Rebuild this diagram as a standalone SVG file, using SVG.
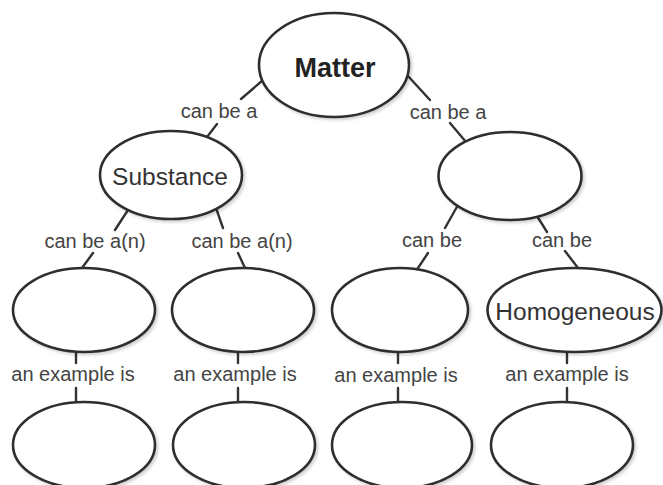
<svg xmlns="http://www.w3.org/2000/svg" width="663" height="485" viewBox="0 0 663 485">
<defs>
<filter id="sh" x="-10%" y="-10%" width="125%" height="130%">
<feDropShadow dx="2" dy="2" stdDeviation="1.5" flood-color="#000" flood-opacity="0.18"/>
</filter>
</defs>
<style>
.node ellipse{fill:#fff;stroke:#2e2e2e;stroke-width:2.6;filter:url(#sh)}
.edge line{stroke:#333;stroke-width:2.4;stroke-linecap:round}
.lbl{font-family:"Liberation Sans",Arial,sans-serif;font-size:20px;fill:#444;text-anchor:middle}
.nt{font-family:"Liberation Sans",Arial,sans-serif;font-size:24.5px;fill:#333;text-anchor:middle}
.bold{font-weight:bold;font-size:27px;fill:#222}
</style>
<rect width="663" height="485" fill="#fff"/>
<g id="connectors" class="edge">
<line x1="263" y1="80" x2="241" y2="99"/>
<line x1="217" y1="124" x2="207" y2="137"/>
<line x1="408" y1="76" x2="430" y2="100"/>
<line x1="450" y1="123" x2="466" y2="142"/>
<line x1="128" y1="210" x2="115" y2="230"/>
<line x1="93" y1="253" x2="82" y2="268"/>
<line x1="216" y1="208" x2="223" y2="228"/>
<line x1="238" y1="253" x2="245" y2="268"/>
<line x1="458" y1="205" x2="445" y2="228"/>
<line x1="428" y1="253" x2="418" y2="268"/>
<line x1="537" y1="216" x2="547" y2="232"/>
<line x1="565" y1="251" x2="578" y2="268"/>
<line x1="76" y1="352" x2="76" y2="363"/>
<line x1="76" y1="388" x2="76" y2="402"/>
<line x1="238" y1="352" x2="238" y2="363"/>
<line x1="238" y1="388" x2="238" y2="402"/>
<line x1="398" y1="352" x2="398" y2="363"/>
<line x1="398" y1="388" x2="398" y2="402"/>
<line x1="567" y1="352" x2="567" y2="363"/>
<line x1="567" y1="388" x2="567" y2="402"/>
</g>
<g id="edge-labels">
<text class="lbl" x="219" y="118">can be a</text>
<text class="lbl" x="448" y="119">can be a</text>
<text class="lbl" x="95" y="248">can be a(n)</text>
<text class="lbl" x="242" y="248">can be a(n)</text>
<text class="lbl" x="432" y="247">can be</text>
<text class="lbl" x="562" y="247">can be</text>
<text class="lbl" x="73" y="381">an example is</text>
<text class="lbl" x="235" y="381">an example is</text>
<text class="lbl" x="396" y="382">an example is</text>
<text class="lbl" x="567" y="381">an example is</text>
</g>
<g id="matter" class="node"><ellipse cx="334" cy="65" rx="75" ry="52"/><text class="nt bold" x="335" y="77">Matter</text></g>
<g id="substance" class="node"><ellipse cx="171" cy="175" rx="71" ry="44"/><text class="nt" x="170" y="185">Substance</text></g>
<g id="mixture" class="node"><ellipse cx="510" cy="176" rx="71.5" ry="44"/></g>
<g id="n1" class="node"><ellipse cx="84" cy="310" rx="71" ry="42"/></g>
<g id="n2" class="node"><ellipse cx="243" cy="310" rx="71" ry="42"/></g>
<g id="n3" class="node"><ellipse cx="400" cy="310" rx="68" ry="42"/></g>
<g id="homogeneous" class="node"><ellipse cx="574.5" cy="310" rx="87" ry="42"/><text class="nt" x="575" y="320">Homogeneous</text></g>
<g id="e1" class="node"><ellipse cx="84" cy="445" rx="71" ry="43"/></g>
<g id="e2" class="node"><ellipse cx="244" cy="445" rx="71" ry="43"/></g>
<g id="e3" class="node"><ellipse cx="402" cy="445" rx="70" ry="43"/></g>
<g id="e4" class="node"><ellipse cx="562" cy="445" rx="71" ry="43"/></g>
</svg>
